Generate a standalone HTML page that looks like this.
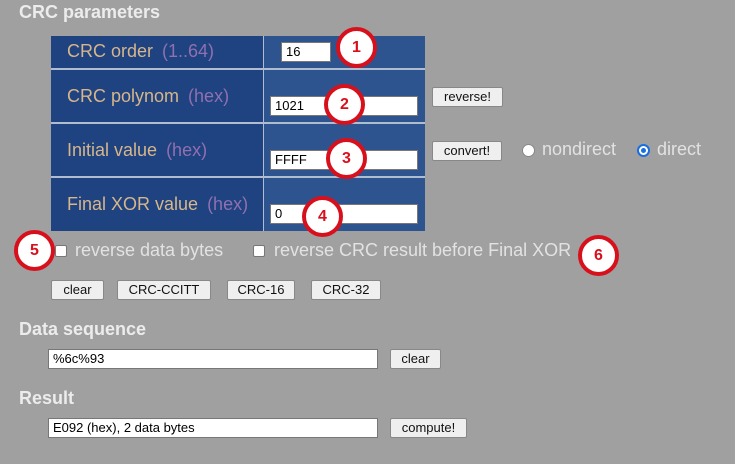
<!DOCTYPE html>
<html><head><meta charset="utf-8"><style>
*{margin:0;padding:0;box-sizing:border-box}
body{width:735px;height:464px;background:#a0a0a0;position:relative;overflow:hidden;font-family:"Liberation Sans",Arial,sans-serif}
.a{position:absolute;white-space:nowrap}
h{position:absolute;font-weight:bold;font-size:18px;color:#ececec}
.lc{position:absolute;left:51px;width:212px;background:#1f4280}
.rc{position:absolute;left:264px;width:161px;background:#2e548f}
.lbl{position:absolute;left:67px;font-size:18px;color:#d6b68a;white-space:nowrap}
.lbl i{font-style:normal;color:#9070b0;margin-left:9px}
.in{position:absolute;background:#fff;border:1px solid #777;font-size:13px;padding-left:4px;line-height:18px;color:#000}
.bt{position:absolute;background:#efefef;border:1px solid #888;border-radius:2px;font-size:13px;text-align:center;line-height:17px;color:#111}
.c{position:absolute;width:41px;height:41px;border-radius:50%;background:#fff;border:4px solid #d8101c;color:#d8101c;font-weight:bold;font-size:16px;text-align:center;line-height:33px}
.t{position:absolute;font-size:18px;color:#e2e2e2;white-space:nowrap}
.cb{position:absolute;width:12px;height:12px;background:#fff;border:1px solid #777;border-radius:2px}
</style></head><body>
<h style="left:19px;top:2px">CRC parameters</h>
<div class="a" style="left:51px;top:36px;width:374px;height:195px;background:#b0bcd0"></div>
<div class="lc" style="top:36px;height:32px"></div><div class="rc" style="top:36px;height:32px"></div>
<div class="lc" style="top:70px;height:52px"></div><div class="rc" style="top:70px;height:52px"></div>
<div class="lc" style="top:124px;height:52px"></div><div class="rc" style="top:124px;height:52px"></div>
<div class="lc" style="top:178px;height:53px"></div><div class="rc" style="top:178px;height:53px"></div>
<div class="lbl" style="top:41px">CRC order<i>(1..64)</i></div>
<div class="lbl" style="top:86px">CRC polynom<i>(hex)</i></div>
<div class="lbl" style="top:140px">Initial value<i>(hex)</i></div>
<div class="lbl" style="top:194px">Final XOR value<i>(hex)</i></div>
<div class="in" style="left:281px;top:42px;width:50px;height:20px">16</div>
<div class="in" style="left:270px;top:96px;width:148px;height:20px">1021</div>
<div class="in" style="left:270px;top:150px;width:148px;height:20px">FFFF</div>
<div class="in" style="left:270px;top:204px;width:148px;height:20px">0</div>
<div class="c" style="left:336px;top:27px">1</div>
<div class="c" style="left:324px;top:84px">2</div>
<div class="c" style="left:326px;top:138px">3</div>
<div class="c" style="left:302px;top:196px">4</div>
<div class="bt" style="left:432px;top:87px;width:71px;height:20px">reverse!</div>
<div class="bt" style="left:432px;top:141px;width:70px;height:20px">convert!</div>
<div class="a" style="left:522px;top:144px;width:13px;height:13px;border-radius:50%;background:#fff;border:1px solid #888"></div>
<div class="t" style="left:542px;top:139px">nondirect</div>
<div class="a" style="left:637px;top:144px;width:13px;height:13px;border-radius:50%;background:#fff;border:2px solid #1a6ee0"><div style="margin:2px;width:5px;height:5px;border-radius:50%;background:#1a6ee0"></div></div>
<div class="t" style="left:657px;top:139px">direct</div>
<div class="c" style="left:14px;top:230px">5</div>
<div class="cb" style="left:55px;top:245px"></div>
<div class="t" style="left:75px;top:240px">reverse data bytes</div>
<div class="cb" style="left:253px;top:245px"></div>
<div class="t" style="left:274px;top:240px">reverse CRC result before Final XOR</div>
<div class="c" style="left:578px;top:235px">6</div>
<div class="bt" style="left:51px;top:280px;width:53px;height:20px">clear</div>
<div class="bt" style="left:117px;top:280px;width:94px;height:20px">CRC-CCITT</div>
<div class="bt" style="left:227px;top:280px;width:68px;height:20px">CRC-16</div>
<div class="bt" style="left:311px;top:280px;width:70px;height:20px">CRC-32</div>
<h style="left:19px;top:319px">Data sequence</h>
<div class="in" style="left:48px;top:349px;width:330px;height:20px">%6c%93</div>
<div class="bt" style="left:390px;top:349px;width:51px;height:20px">clear</div>
<h style="left:19px;top:388px">Result</h>
<div class="in" style="left:48px;top:418px;width:330px;height:20px">E092 (hex), 2 data bytes</div>
<div class="bt" style="left:390px;top:418px;width:77px;height:20px">compute!</div>
</body></html>
